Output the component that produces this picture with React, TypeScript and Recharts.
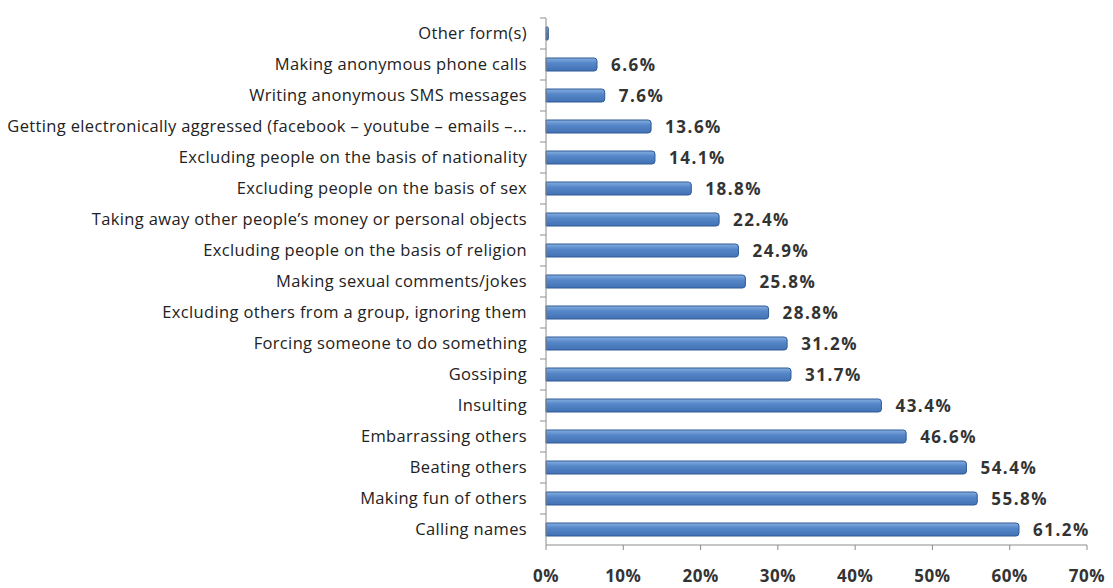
import React from 'react';
import { Bar, BarChart, LabelList, XAxis, YAxis } from 'recharts';

const categories = [
  'Other form(s)',
  'Making anonymous phone calls',
  'Writing anonymous SMS messages',
  'Getting electronically aggressed (facebook – youtube – emails –...',
  'Excluding people on the basis of nationality',
  'Excluding people on the basis of sex',
  'Taking away other people’s money or personal objects',
  'Excluding people on the basis of religion',
  'Making sexual comments/jokes',
  'Excluding others from a group, ignoring them',
  'Forcing someone to do something',
  'Gossiping',
  'Insulting',
  'Embarrassing others',
  'Beating others',
  'Making fun of others',
  'Calling names',
];

const values = [0.3, 6.6, 7.6, 13.6, 14.1, 18.8, 22.4, 24.9, 25.8, 28.8, 31.2, 31.7, 43.4, 46.6, 54.4, 55.8, 61.2];

const xTicks = [0, 10, 20, 30, 40, 50, 60, 70];

const data = categories.map((name, i) => ({ name, value: values[i] }));

const FONT = '"Open Sans", Lato, sans-serif';
const BAND = 31;

// category label plus a small tick mark on the band boundary (Excel style)
const CategoryTick = (props: any) => {
  const { x, y, payload } = props;
  return (
    <g>
      <line x1={x + 2} x2={x + 8} y1={y - BAND / 2} y2={y - BAND / 2} stroke="#8c8c8c" />
      <text
        x={x - 11}
        y={y}
        dy={5}
        textAnchor="end"
        fontSize={16.5}
        letterSpacing={0.35}
        fill="#222"
        fontFamily={FONT}
      >
        {payload.value}
      </text>
    </g>
  );
};

const App = () => {
  return (
    <div style={{ width: 1097, height: 580, fontFamily: FONT }}>
      <BarChart
        width={1097}
        height={580}
        data={data}
        layout="vertical"
        barCategoryGap={0}
        margin={{ top: 10, right: 18, bottom: 13, left: 0 }}
      >
        <defs>
          <linearGradient id="barFill" x1="0" y1="0" x2="0" y2="1">
            <stop offset="0%" stopColor="#86aee0" />
            <stop offset="40%" stopColor="#5586c8" />
            <stop offset="100%" stopColor="#4272b4" />
          </linearGradient>
        </defs>
        <XAxis
          type="number"
          domain={[0, 70]}
          ticks={xTicks}
          tickFormatter={(v: number) => `${v}%`}
          axisLine={{ stroke: '#8c8c8c' }}
          tickLine={{ stroke: '#8c8c8c' }}
          tickSize={5}
          height={30}
          tick={{ fontSize: 17, fontWeight: 700, fill: '#333', fontFamily: FONT, dy: 18, letterSpacing: 0.5 }}
        />
        <YAxis
          type="category"
          dataKey="name"
          width={538}
          interval={0}
          axisLine={{ stroke: '#8c8c8c' }}
          tickLine={false}
          tick={<CategoryTick />}
        />
        <Bar
          dataKey="value"
          barSize={13}
          fill="url(#barFill)"
          stroke="#2f5b96"
          strokeWidth={1}
          radius={[0, 3, 3, 0]}
          isAnimationActive={false}
        >
          <LabelList
            dataKey="value"
            position="right"
            offset={14}
            formatter={(v: number) => (v > 1 ? `${v.toFixed(1)}%` : '')}
            style={{ fontSize: 17, fontWeight: 700, fill: '#333', fontFamily: FONT, letterSpacing: 1.5 }}
          />
        </Bar>
      </BarChart>
    </div>
  );
};

export default App;
